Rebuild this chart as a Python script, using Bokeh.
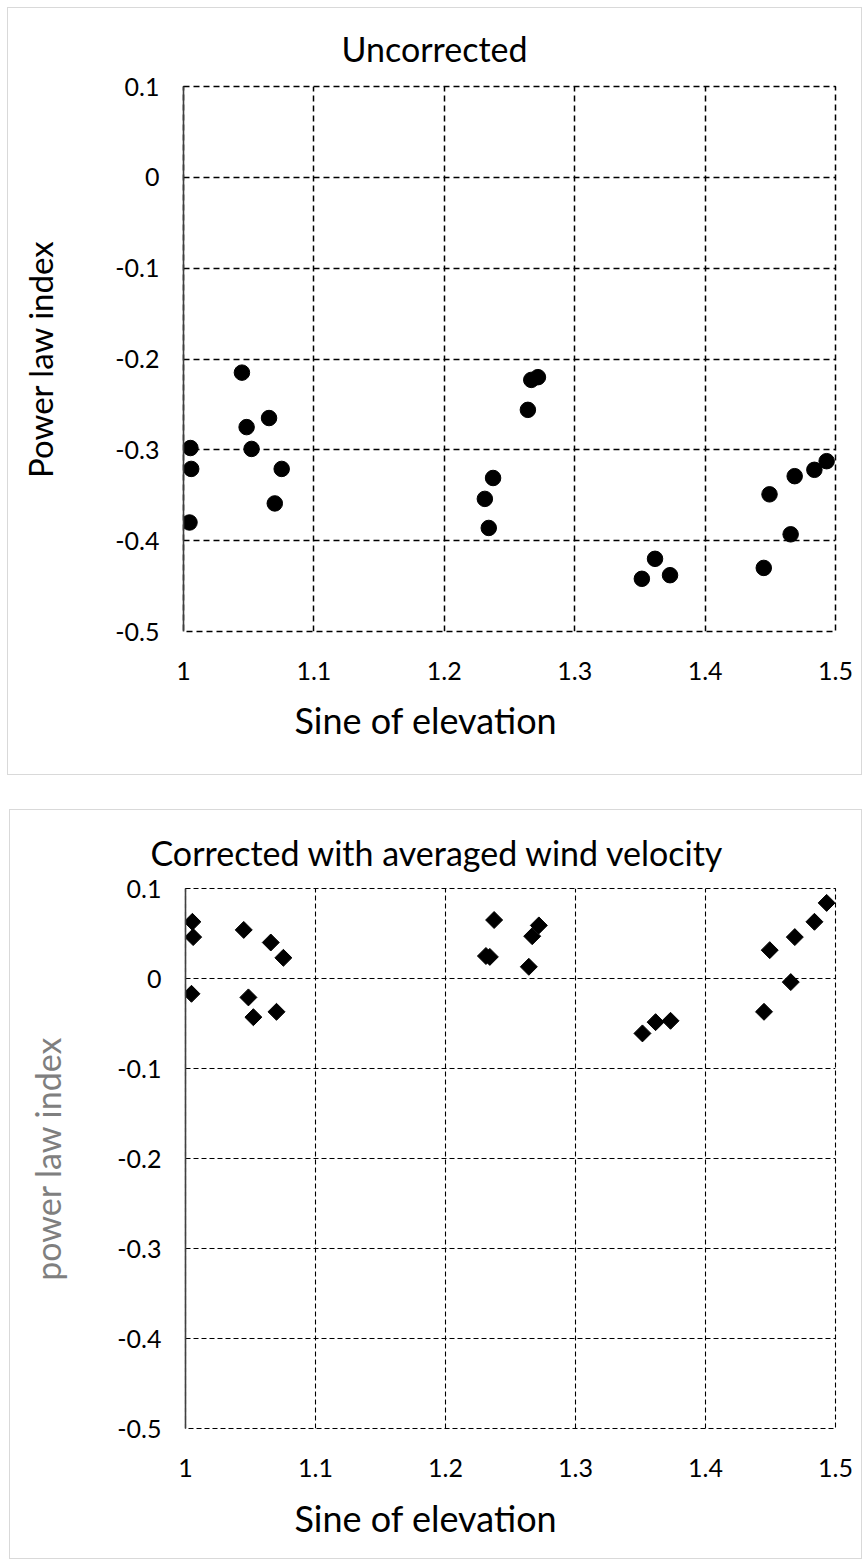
import math
from bokeh.plotting import figure
from bokeh.models import Range1d, FixedTicker, Title
from bokeh.layouts import column
from bokeh.embed import file_html
from bokeh.resources import INLINE

# ---- data ----
sine_elevation = [1.0046, 1.0053, 1.0059, 1.0448, 1.0484, 1.0522, 1.0656, 1.0700, 1.0753,
                  1.2311, 1.2341, 1.2374, 1.2641, 1.2667, 1.2718,
                  1.3515, 1.3616, 1.3731,
                  1.4450, 1.4494, 1.4656, 1.4687, 1.4838, 1.4932]
index_uncorrected = [-0.380, -0.298, -0.321, -0.215, -0.275, -0.299, -0.265, -0.359, -0.321,
                     -0.354, -0.386, -0.331, -0.256, -0.223, -0.220,
                     -0.442, -0.420, -0.438,
                     -0.430, -0.349, -0.393, -0.329, -0.322, -0.3125]
index_corrected = [-0.017, 0.063, 0.046, 0.054, -0.021, -0.043, 0.040, -0.037, 0.023,
                   0.025, 0.024, 0.065, 0.013, 0.047, 0.059,
                   -0.061, -0.0485, -0.047,
                   -0.037, 0.0315, -0.004, 0.046, 0.063, 0.084]

x_ticks = [1.0, 1.1, 1.2, 1.3, 1.4, 1.5]
x_tick_labels = ["1", "1.1", "1.2", "1.3", "1.4", "1.5"]
y_ticks = [0.1, 0.0, -0.1, -0.2, -0.3, -0.4, -0.5]
y_tick_labels = ["0.1", "0", "-0.1", "-0.2", "-0.3", "-0.4", "-0.5"]

FONT = "Lato"


def make_chart(title, ylabel, ylabel_color, ylabel_size, ylabel_standoff, y,
               marker, msize, mangle, width, height, borders, dash, gwidth,
               title_offset, title_standoff, xlab_offset, xlab_standoff):
    left, right, top, bottom = borders
    p = figure(width=width, height=height, output_backend="svg", toolbar_location=None,
               x_range=Range1d(1.0, 1.5), y_range=Range1d(-0.5, 0.1),
               min_border_left=left, min_border_right=right,
               min_border_top=top, min_border_bottom=bottom)
    p.background_fill_color = "white"
    p.border_fill_color = "white"
    # frame edges drawn like the dashed gridlines
    p.outline_line_color = "black"
    p.outline_line_dash = dash
    p.outline_line_width = gwidth

    p.xaxis.ticker = FixedTicker(ticks=x_ticks)
    p.yaxis.ticker = FixedTicker(ticks=y_ticks)
    p.xaxis.major_label_overrides = dict(zip(x_ticks, x_tick_labels))
    p.yaxis.major_label_overrides = dict(zip(y_ticks, y_tick_labels))
    for ax in (p.xaxis, p.yaxis):
        ax.major_tick_line_color = None
        ax.minor_tick_line_color = None
        ax.major_label_text_font = FONT
        ax.major_label_text_font_size = "25px"
        ax.major_label_text_color = "black"
    p.xaxis.axis_line_color = None
    p.yaxis.axis_line_color = "#404040"
    p.yaxis.axis_line_width = 1.6
    p.xaxis.major_label_standoff = 24
    p.yaxis.major_label_standoff = 18

    p.yaxis.axis_label = ylabel
    p.yaxis.axis_label_text_font = FONT
    p.yaxis.axis_label_text_font_size = ylabel_size
    p.yaxis.axis_label_text_font_style = "normal"
    p.yaxis.axis_label_text_color = ylabel_color
    p.yaxis.axis_label_standoff = ylabel_standoff

    for g in (p.xgrid, p.ygrid):
        g.grid_line_color = "black"
        g.grid_line_dash = dash
        g.grid_line_width = gwidth
    p.xgrid.ticker = FixedTicker(ticks=x_ticks)
    p.ygrid.ticker = FixedTicker(ticks=y_ticks)

    p.scatter(sine_elevation, y, marker=marker, size=msize, angle=mangle,
              fill_color="black", line_color="black")

    p.add_layout(Title(text=title, align="left", offset=title_offset, text_font=FONT,
                       text_font_size="34px", text_font_style="normal",
                       text_color="black", standoff=title_standoff), "above")
    p.add_layout(Title(text="Sine of elevation", align="left", offset=xlab_offset,
                       text_font=FONT, text_font_size="36px", text_font_style="normal",
                       text_color="black", standoff=xlab_standoff), "below")
    p.styles = {"border": "1px solid #d9d9d9"}
    return p


p1 = make_chart("Uncorrected", "Power law index", "black", "33px", 52, index_uncorrected,
                "circle", 15.5, 0.0, 855, 768, (175, 27, 78, 145), "6 4", 1.5,
                158, 35, 111, 26)
p1.margin = (7, 0, 0, 7)

p2 = make_chart("Corrected with averaged wind velocity", "power law index", "#7f7f7f",
                "34px", 46, index_corrected, "square", 12, math.pi / 4, 853, 750,
                (175, 28, 78, 132), "5 3", 1.1, -35, 31, 109, 28)
p2.margin = (34, 0, 0, 9)

layout = column(p1, p2, spacing=0)
open("out.html", "w").write(file_html(layout, INLINE))
